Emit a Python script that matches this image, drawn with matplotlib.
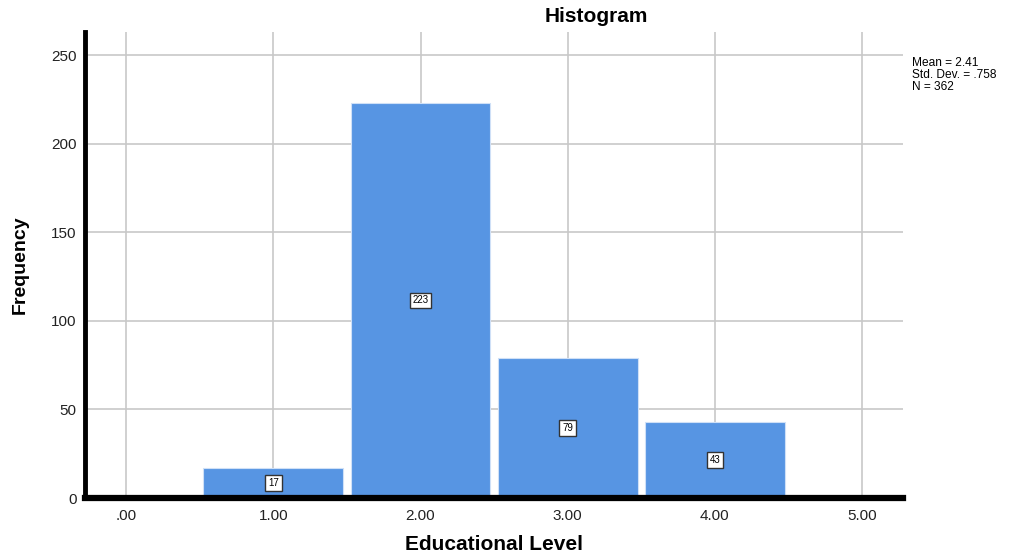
import numpy as np
import matplotlib.pyplot as plt

levels = [1.0, 2.0, 3.0, 4.0]
counts = [17, 223, 79, 43]
xticks = [0, 1, 2, 3, 4, 5]
xtick_labels = [".00", "1.00", "2.00", "3.00", "4.00", "5.00"]
yticks = [0, 50, 100, 150, 200, 250]
stats = ["Mean = 2.41", "Std. Dev. = .758", "N = 362"]

plt.rcParams['font.family'] = ['Liberation Sans', 'DejaVu Sans']

fig = plt.figure(figsize=(10.24, 5.58), dpi=100)
ax = fig.add_axes([0.083, 0.1075, 0.799, 0.8352])

bar_color = '#5795e3'
ax.bar(levels, counts, width=0.95, color=bar_color, edgecolor='#cfe0f7', linewidth=0.8, zorder=2)

# etiquetas con caja en el centro de cada barra
for x, c in zip(levels, counts):
    ax.text(x, c / 2, str(c), ha='center', va='center', fontsize=7, zorder=3,
            bbox=dict(boxstyle='square,pad=0.3', facecolor='white', edgecolor='#333333', linewidth=1))

ax.set_xlim(-0.28, 5.28)
ax.set_ylim(0, 263)
ax.set_xticks(xticks)
ax.set_xticklabels(xtick_labels)
ax.set_yticks(yticks)

ax.grid(True, color='#c8c8c8', linewidth=1.2, zorder=0)
ax.set_axisbelow(True)

for s in ['top', 'right']:
    ax.spines[s].set_visible(False)
ax.spines['left'].set_linewidth(3.5)
ax.spines['bottom'].set_linewidth(4.5)
ax.spines['left'].set_zorder(4)
ax.spines['bottom'].set_zorder(4)

ax.tick_params(axis='both', length=0, labelsize=11, colors='#222222')
ax.tick_params(axis='x', pad=8)
ax.tick_params(axis='y', pad=6)

# etiquetas de ejes y titulo con posicion fija
fig.text(494 / 1024, 1 - 545 / 558, "Educational Level", ha='center', va='center', fontsize=15, fontweight='bold')
fig.text(20 / 1024, 1 - 265 / 558, "Frequency", ha='center', va='center', rotation=90, fontsize=14, fontweight='bold')
fig.text(596 / 1024, 1 - 17 / 558, "Histogram", ha='center', va='center', fontsize=15, fontweight='bold')
fig.text(912 / 1024, 1 - 57 / 558, "\n".join(stats), ha='left', va='top', fontsize=8.6, linespacing=1.0)

fig.savefig("out.png", dpi=100)
